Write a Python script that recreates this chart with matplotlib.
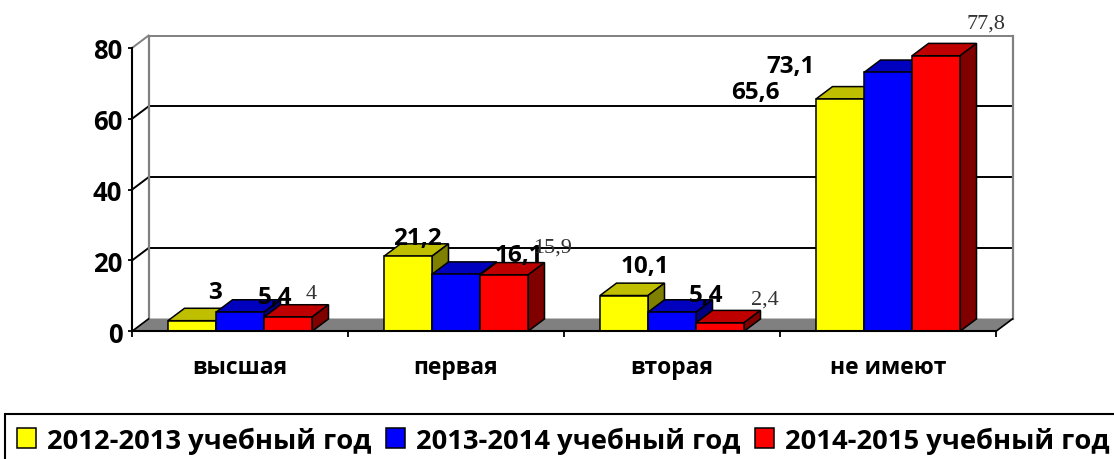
import matplotlib
matplotlib.use("Agg")
import matplotlib.pyplot as plt
from matplotlib.patches import Polygon

categories = ["высшая", "первая", "вторая", "не имеют"]
series_names = ["2012-2013 учебный год", "2013-2014 учебный год", "2014-2015 учебный год"]
values_2012 = [3, 21.2, 10.1, 65.6]
values_2013 = [5.4, 16.1, 5.4, 73.1]
values_2014 = [4, 15.9, 2.4, 77.8]
y_ticks = [0, 20, 40, 60, 80]

all_values = [values_2012, values_2013, values_2014]
front_colors = ["#FFFF00", "#0000FF", "#FF0000"]
top_colors = ["#BFBF00", "#0000BF", "#BF0000"]
side_colors = ["#808000", "#000080", "#800000"]
label_offsets = [
    [(23, 29), (9, 18), (21, 30), (-85, 7)],
    [(35, 15), (63, 19), (34, 17), (-97, 6)],
    [(23, 24), (49, 28), (45, 24), (50, 33)],
]

W, H = 1114, 460
BOLD = ["Open Sans", "DejaVu Sans"]
SERIF = ["Liberation Serif"]
LW = 1.1

fig = plt.figure(figsize=(W / 100, H / 100), dpi=100)
x0, x1, y0, y80 = 132, 996, 332.3, 49
ax = fig.add_axes([x0 / W, 1 - y0 / H, (x1 - x0) / W, (y0 - y80) / H])
ax.set_xlim(0, 4)
ax.set_ylim(0, 80)

dx = 16.5 / 216
dy = 12.4 / ((y0 - y80) / 80)
bw = 48 / 216
gap = 36 / 216
GRAY = "#808080"

ax.add_patch(Polygon([(0, 0), (dx, dy), (4 + dx, dy), (4, 0)], closed=True, fc=GRAY, ec=GRAY, lw=0.5, zorder=1, clip_on=False))
for t in y_ticks[1:]:
    col = "black" if t < y_ticks[-1] else GRAY
    ax.plot([dx, 4 + dx], [t + dy, t + dy], color=col, lw=1.4, zorder=1.2, clip_on=False, solid_capstyle="butt")
    ax.plot([0, dx], [t, t + dy], color=col, lw=1.4, zorder=1.2, clip_on=False)
ax.plot([dx, dx], [dy, y_ticks[-1] + dy], color=GRAY, lw=1.6, zorder=1.3, clip_on=False)
ax.plot([4 + dx, 4 + dx], [dy, y_ticks[-1] + dy], color=GRAY, lw=1.6, zorder=1.3, clip_on=False)
ax.plot([0, dx], [0, dy], color="black", lw=1.2, zorder=1.3, clip_on=False)
ax.plot([4, 4 + dx], [0, dy], color="black", lw=1.2, zorder=1.3, clip_on=False)

handles = []
for s, vals in enumerate(all_values):
    xs = [c + gap + bw * s + bw / 2 for c in range(len(vals))]
    z = 3 + s
    bars = ax.bar(xs, vals, width=bw, color=front_colors[s], edgecolor="black", linewidth=LW, zorder=z + 0.2, label=series_names[s])
    handles.append(bars)
    for x, v, off in zip(xs, vals, label_offsets[s]):
        l, r = x - bw / 2, x + bw / 2
        ax.add_patch(Polygon([(l, v), (l + dx, v + dy), (r + dx, v + dy), (r, v)], closed=True,
                             fc=top_colors[s], ec="black", lw=LW, zorder=z, clip_on=False))
        ax.add_patch(Polygon([(r, 0), (r + dx, dy), (r + dx, v + dy), (r, v)], closed=True,
                             fc=side_colors[s], ec="black", lw=LW, zorder=z, clip_on=False))
        txt = f"{v:g}".replace(".", ",")
        if s < 2:
            ax.annotate(txt, (x, v), xytext=(off[0] * 0.72, off[1] * 0.72), textcoords="offset points",
                        ha="center", va="center", fontsize=17.5, fontweight="bold", family=BOLD, zorder=10, annotation_clip=False)
        else:
            ax.annotate(txt, (x, v), xytext=(off[0] * 0.72, off[1] * 0.72), textcoords="offset points",
                        ha="center", va="center", fontsize=16, family=SERIF, color="#333333", zorder=10, annotation_clip=False)

for sp in ["top", "right"]:
    ax.spines[sp].set_visible(False)
for sp in ["left", "bottom"]:
    ax.spines[sp].set_linewidth(1.5)
    ax.spines[sp].set_zorder(8)
ax.patch.set_alpha(0)

ax.set_yticks(y_ticks)
ax.set_yticklabels([str(t) for t in y_ticks], fontsize=18.5, fontweight="bold", family=BOLD)
ax.set_xticks(range(5))
ax.set_xticklabels([""] * 5)
ax.set_xticks([c + 0.5 for c in range(4)], minor=True)
ax.set_xticklabels(categories, minor=True, fontsize=16.5, fontweight="bold", family=BOLD)
ax.tick_params(axis="x", which="major", length=4.5, width=1.3)
ax.tick_params(axis="x", which="minor", length=0, pad=17)
ax.tick_params(axis="y", length=3, width=1.3, pad=4)

leg = fig.legend(handles=handles, labels=series_names, loc="upper left", ncol=3,
                 bbox_to_anchor=(5 / W, 1 - 415 / H), frameon=True, fancybox=False,
                 edgecolor="black", framealpha=1, prop={"family": BOLD, "weight": "bold", "size": 19.7},
                 handlelength=0.7, handleheight=0.7, handletextpad=0.4, columnspacing=0.52,
                 borderpad=0.45, borderaxespad=0)
leg.get_frame().set_linewidth(1.5)

fig.savefig("out.png", dpi=100, facecolor="white")
